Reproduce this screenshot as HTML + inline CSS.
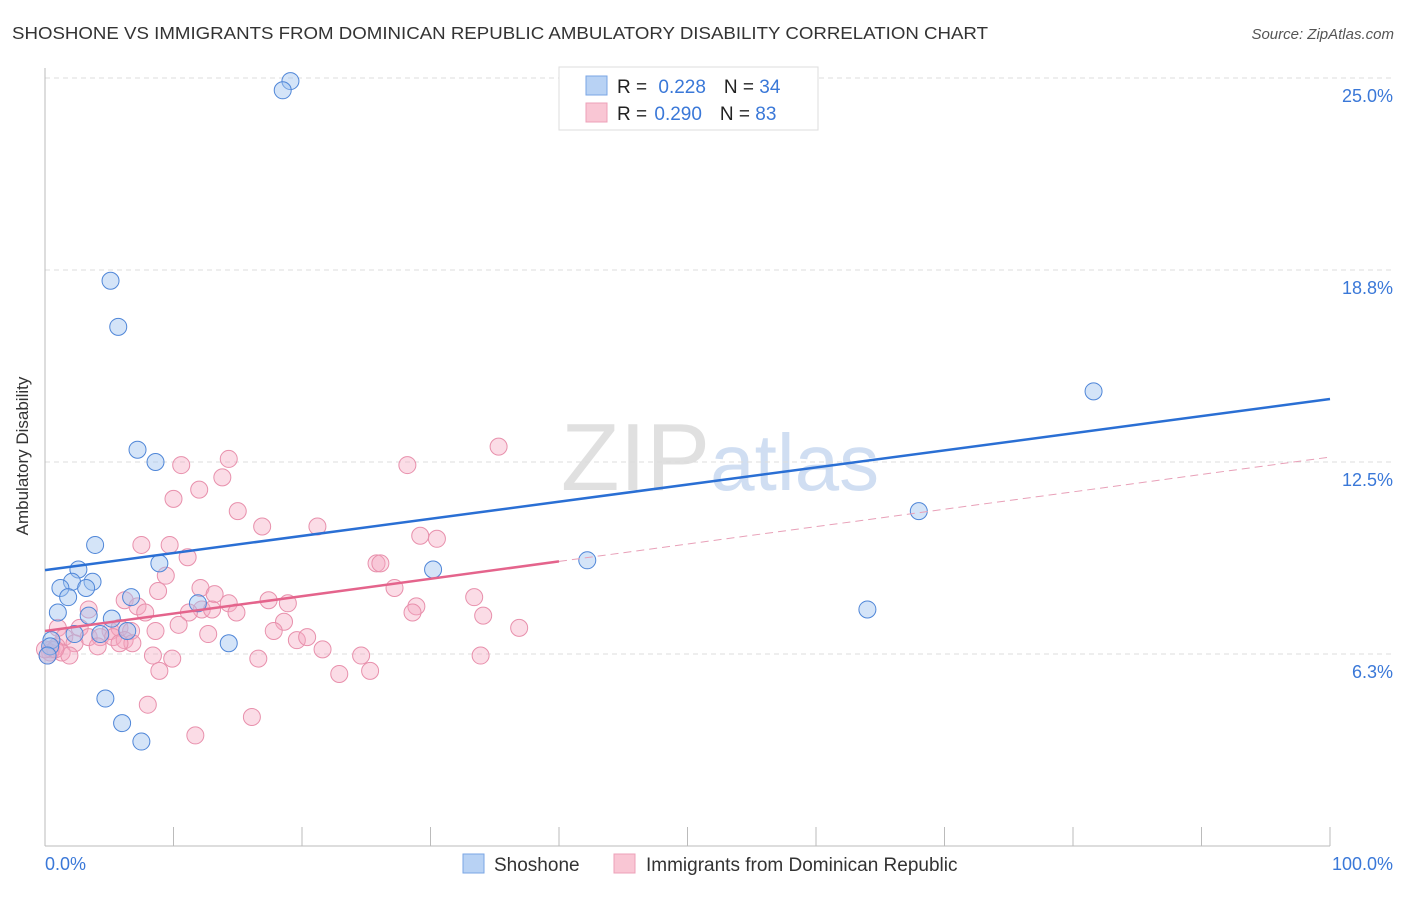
<!DOCTYPE html>
<html><head><meta charset="utf-8"><style>
body{margin:0;background:#fff;font-family:"Liberation Sans",sans-serif;}
svg text{font-family:"Liberation Sans",sans-serif;}
</style></head><body>
<svg id="chart" width="1406" height="892" viewBox="0 0 1406 892" xmlns="http://www.w3.org/2000/svg">
<text x="12" y="39" font-size="17.5" fill="#333" textLength="976" lengthAdjust="spacingAndGlyphs">SHOSHONE VS IMMIGRANTS FROM DOMINICAN REPUBLIC AMBULATORY DISABILITY CORRELATION CHART</text>
<text x="1394" y="39" font-size="15" fill="#555" font-style="italic" text-anchor="end">Source: ZipAtlas.com</text>
<text x="720" y="490" font-size="96" fill="#ddd" text-anchor="middle" font-family="Liberation Serif"><tspan fill="#e0e0e0">ZIP</tspan><tspan fill="#d0def2" font-family="Liberation Sans" font-size="80">atlas</tspan></text>
<g id="grid"></g>
<line x1="45" y1="68" x2="45" y2="846" stroke="#bbb"/>
<line x1="45" y1="846" x2="1330" y2="846" stroke="#bbb"/>
<g id="xticks"></g>
<text x="28" y="456" font-size="17" fill="#333" text-anchor="middle" transform="rotate(-90 28 456)">Ambulatory Disability</text>
<text x="45" y="870" font-size="18" fill="#3a78d8">0.0%</text>
<text x="1393" y="870" font-size="18" fill="#3a78d8" text-anchor="end">100.0%</text>
<g id="pts"></g>
<g id="trends"></g>
<g>
<rect x="559" y="67" width="259" height="63" fill="#fff" stroke="#ddd"/>
<rect x="586" y="76" width="21" height="19" fill="#b8d2f4" stroke="#7aa6e4"/>
<rect x="586" y="103" width="21" height="19" fill="#f9c6d4" stroke="#eda0b8"/>
<text x="617" y="93" font-size="19" fill="#222">R = <tspan fill="#3a78d8" dx="6">0.228</tspan><tspan dx="18" fill="#222">N = </tspan><tspan fill="#3a78d8">34</tspan></text>
<text x="617" y="120" font-size="19" fill="#222">R = <tspan fill="#3a78d8" dx="2">0.290</tspan><tspan dx="18" fill="#222">N = </tspan><tspan fill="#3a78d8">83</tspan></text>
</g>
<g>
<rect x="463" y="854" width="21" height="19" fill="#b8d2f4" stroke="#7aa6e4"/>
<text x="494" y="871" font-size="19" fill="#333">Shoshone</text>
<rect x="614" y="854" width="21" height="19" fill="#f9c6d4" stroke="#eda0b8"/>
<text x="646" y="871" font-size="19" fill="#333">Immigrants from Dominican Republic</text>
</g>
</svg>
<script>
const yTicks=[25.0,18.75,12.5,6.25];
const yTickLabels=["25.0%","18.8%","12.5%","6.3%"];
const xTicks=[0,10,20,30,40,50,60,70,80,90,100];
const blueX=[19.1,18.5,5.1,5.7,7.2,8.6,3.9,8.9,2.6,2.1,3.7,1.2,3.2,1.8,6.7,11.9,1.0,3.4,5.2,6.4,2.3,4.3,0.5,14.3,0.4,4.7,6.0,7.5,30.2,42.2,64.0,68.0,81.6,0.2];
const blueY=[24.9,24.6,18.4,16.9,12.9,12.5,9.8,9.2,9.0,8.6,8.6,8.4,8.4,8.1,8.1,7.9,7.6,7.5,7.4,7.0,6.9,6.9,6.7,6.6,6.5,4.8,4.0,3.4,9.0,9.3,7.7,10.9,14.8,6.2];
const pinkX=[35.3,14.3,28.2,10.6,13.8,12.0,10.0,15.0,16.9,21.2,29.2,30.5,7.5,9.7,11.1,25.8,26.1,9.4,8.8,27.2,3.4,6.2,12.1,13.2,12.2,14.3,17.4,18.9,33.4,28.9,28.6,7.2,7.8,11.2,13.0,14.9,34.1,36.9,10.4,18.6,17.8,1.0,2.7,5.1,5.8,6.7,8.6,12.7,19.6,20.4,1.5,3.4,4.3,5.3,6.2,6.8,21.6,2.3,4.1,5.8,0.9,0.5,1.3,0.4,1.9,8.4,9.9,16.6,24.6,33.9,8.9,22.9,25.3,8.0,16.1,11.7,0.2,0.0,0.8];
const pinkY=[13.0,12.6,12.4,12.4,12.0,11.6,11.3,10.9,10.4,10.4,10.1,10.0,9.8,9.8,9.4,9.2,9.2,8.8,8.3,8.4,7.7,8.0,8.4,8.2,7.7,7.9,8.0,7.9,8.1,7.8,7.6,7.8,7.6,7.6,7.7,7.6,7.5,7.1,7.2,7.3,7.0,7.1,7.1,7.0,7.1,7.0,7.0,6.9,6.7,6.8,6.8,6.8,6.8,6.8,6.7,6.6,6.4,6.6,6.5,6.6,6.5,6.4,6.3,6.3,6.2,6.2,6.1,6.1,6.2,6.2,5.7,5.6,5.7,4.6,4.2,3.6,6.2,6.4,6.4];
const blueTrend=[8.98,14.55];
const pinkTrend=[7.0,12.66];
const pinkSolidEnd=40;
const NS="http://www.w3.org/2000/svg";
const sx=v=>45+v*12.85;
const sy=v=>846-v*30.72;
function mk(tag,attrs,parent){const e=document.createElementNS(NS,tag);for(const k in attrs)e.setAttribute(k,attrs[k]);parent.appendChild(e);return e;}
const grid=document.getElementById('grid');
yTicks.forEach((t,i)=>{
  const l=mk('line',{x1:45,x2:1393,y1:sy(t),y2:sy(t),stroke:'#ddd','stroke-dasharray':'5,4'},grid);
  
  
  const tx=mk('text',{x:1393,y:sy(t)+24,'font-size':18,fill:'#3a78d8','text-anchor':'end'},grid);
  tx.textContent=yTickLabels[i];
  
  
});
const xt=document.getElementById('xticks');
xTicks.forEach(t=>{
  const l=mk('line',{x1:sx(t),x2:sx(t),y1:827,y2:846,stroke:'#bbb'},xt);
  
  
});
const pts=document.getElementById('pts');
pinkX.forEach((x,i)=>{
  const c=mk('circle',{cx:sx(x),cy:sy(pinkY[i]),r:8.5,fill:'rgba(244,168,192,0.4)',stroke:'#e890ac','stroke-width':1},pts);
  
  
});
blueX.forEach((x,i)=>{
  const c=mk('circle',{cx:sx(x),cy:sy(blueY[i]),r:8.5,fill:'rgba(160,196,240,0.45)',stroke:'#4f86d8','stroke-width':1},pts);
  
  
});
const tr=document.getElementById('trends');
const pAt=x=>pinkTrend[0]+(pinkTrend[1]-pinkTrend[0])*x/100;
const pd=mk('line',{x1:sx(pinkSolidEnd),y1:sy(pAt(pinkSolidEnd)),x2:sx(100),y2:sy(pinkTrend[1]),stroke:'#e8a0b8','stroke-width':1,'stroke-dasharray':'8,5'},tr);


const ps=mk('line',{x1:sx(0),y1:sy(pinkTrend[0]),x2:sx(pinkSolidEnd),y2:sy(pAt(pinkSolidEnd)),stroke:'#e4648c','stroke-width':2.5},tr);


const bl=mk('line',{x1:sx(0),y1:sy(blueTrend[0]),x2:sx(100),y2:sy(blueTrend[1]),stroke:'#2a6fd4','stroke-width':2.5},tr);


</script>
</body></html>
